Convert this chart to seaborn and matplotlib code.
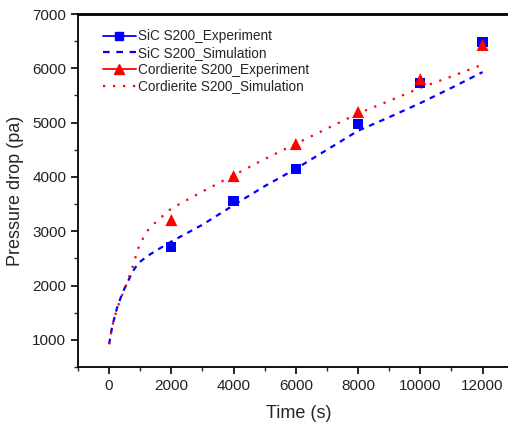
import numpy as np
import pandas as pd
import matplotlib
matplotlib.use("Agg")
import matplotlib.pyplot as plt
from matplotlib.lines import Line2D
from matplotlib.ticker import MultipleLocator
import seaborn as sns

# ------------------------------#
# Data
# ------------------------------#
exp_time = [2000, 4000, 6000, 8000, 10000, 12000]
sic_exp = [2710, 3560, 4140, 4975, 5730, 6490]
cord_exp = [3205, 4015, 4605, 5195, 5800, 6430]

sim_time = [0, 100, 250, 400, 500, 750, 900, 1000, 1250, 1500, 2000, 3000,
            4000, 5000, 6000, 7000, 8000, 9000, 10000, 11000, 12000]
sic_sim = [920, 1250, 1580, 1820, 1950, 2250, 2380, 2440, 2550, 2640, 2810,
           3120, 3480, 3830, 4150, 4500, 4850, 5100, 5360, 5640, 5930]
cord_sim = [920, 1250, 1560, 1800, 1930, 2330, 2620, 2780, 3020, 3170, 3420,
            3730, 4030, 4330, 4610, 4890, 5170, 5400, 5640, 5850, 6070]

# ------------------------------#
# Plot
# ------------------------------#
sns.set_style("ticks")
plt.rcParams["font.family"] = ["Liberation Sans", "DejaVu Sans"]

fig = plt.figure(figsize=(5.08, 4.23), dpi=100)
ax = fig.add_axes([0.1535, 0.1324, 0.87, 0.8345])

sim = pd.DataFrame({"t": sim_time, "sic": sic_sim, "cord": cord_sim})
exp = pd.DataFrame({"t": exp_time, "sic": sic_exp, "cord": cord_exp})

sns.lineplot(data=sim, x="t", y="sic", ax=ax, color="#0000ff",
             linestyle=(0, (2.5, 2.5)), linewidth=1.6)
sns.lineplot(data=sim, x="t", y="cord", ax=ax, color="#ff0000",
             linestyle=(0, (1, 3.5)), linewidth=1.6)
sns.scatterplot(data=exp, x="t", y="sic", ax=ax, marker="s", s=55,
                color="#0000ff", edgecolor="none", zorder=3)
sns.scatterplot(data=exp, x="t", y="cord", ax=ax, marker="^", s=75,
                color="#ff0000", edgecolor="none", zorder=4)

ax.set_xlim(-1000, 13200)
ax.set_ylim(500, 7000)
ax.xaxis.set_minor_locator(MultipleLocator(1000))
ax.yaxis.set_minor_locator(MultipleLocator(500))
ax.set_xticks([0, 2000, 4000, 6000, 8000, 10000, 12000])
ax.set_yticks([1000, 2000, 3000, 4000, 5000, 6000, 7000])

ax.tick_params(which="major", direction="out", length=5, width=1.2,
               labelsize=11, colors="black", labelcolor="#222222")
ax.tick_params(which="minor", direction="out", length=3, width=1.0)
for side in ["left", "bottom", "top", "right"]:
    ax.spines[side].set_linewidth(1.3)
    ax.spines[side].set_color("black")
ax.spines["top"].set_linewidth(2.0)

ax.set_xlabel("Time (s)", fontsize=13, labelpad=9)
ax.set_ylabel("Pressure drop (pa)", fontsize=13, labelpad=6)

handles = [
    Line2D([], [], color="#0000ff", marker="s", markersize=6, lw=1.3),
    Line2D([], [], color="#0000ff", linestyle=(0, (3, 3)), lw=1.6),
    Line2D([], [], color="#ff0000", marker="^", markersize=7, lw=1.3),
    Line2D([], [], color="#ff0000", linestyle=(0, (1, 3.5)), lw=1.6),
]
labels = ["SiC S200_Experiment", "SiC S200_Simulation",
          "Cordierite S200_Experiment", "Cordierite S200_Simulation"]
ax.legend(handles, labels, loc="upper left", bbox_to_anchor=(0.044, 0.972),
          frameon=False, fontsize=9.8, handlelength=2.4, handletextpad=0.2,
          labelspacing=0.2, borderaxespad=0)

fig.savefig("out.png", dpi=100)
